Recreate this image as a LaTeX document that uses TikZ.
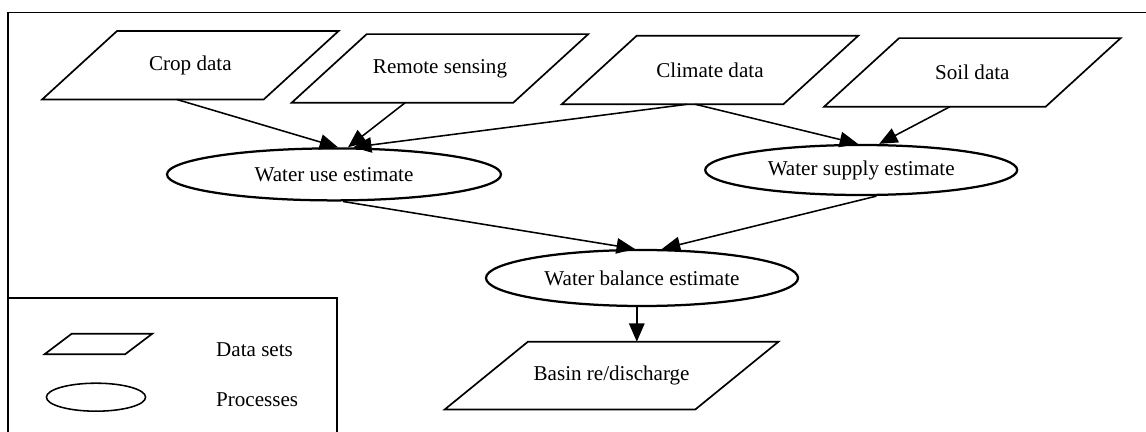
\documentclass[tikz,border=0pt]{standalone}
\usepackage{fontspec}
\setmainfont{Liberation Serif}
\usetikzlibrary{shapes.geometric,arrows.meta}

\tikzset{
  dataset/.style={inner sep=0pt, minimum width=7.4cm, minimum height=1.7cm},
  process/.style={ellipse, draw, line width=1.6pt, inner sep=0pt},
  flow/.style={-{Triangle[length=13pt,width=11pt]}, line width=1.1pt}
}
% slanted outline round a dataset node: #1 node, #2 slant
\newcommand{\slantbox}[2]{%
  \draw[line width=1.2pt] ([xshift=#2]#1.north west) -- (#1.north east)
      -- ([xshift=-#2]#1.south east) -- (#1.south west) -- cycle;}

\begin{document}
\begin{tikzpicture}[font=\fontsize{15}{18}\selectfont]
                \useasboundingbox (0,0) rectangle (28.65,-10.8);
                \draw[line width=1.1pt] (28.65,-0.31) -- (0.2,-0.31) -- (0.2,-10.8);
                \draw[line width=1.1pt] (0.2,-7.45) -- (8.43,-7.45) -- (8.43,-10.8);

                \node[dataset] (crop) at (4.76,-1.63) {Crop data};
                \slantbox{crop}{1.875cm}
                \node[dataset] (remote) at (11.0,-1.71) {Remote sensing};
                \slantbox{remote}{1.875cm}
                \node[dataset] (climate) at (17.75,-1.75) {Climate data};
                \slantbox{climate}{1.875cm}
                \node[dataset] (soil) at (24.31,-1.81) {Soil data};
                \slantbox{soil}{1.875cm}

                \node[process, minimum width=8.35cm, minimum height=1.3cm] (use)
                    at (8.35,-4.36) {Water use estimate};
                \node[process, minimum width=7.8cm, minimum height=1.25cm] (supply)
                    at (21.53,-4.25) {Water supply estimate};
                \node[process, minimum width=7.8cm, minimum height=1.4cm] (balance)
                    at (16.05,-6.95) {Water balance estimate};
                \node[dataset, minimum width=8.33cm, minimum height=1.68cm] (basin)
                    at (15.29,-9.39) {Basin re/discharge};
                \slantbox{basin}{2.08cm}

                \draw[flow] ([xshift=-0.34cm]crop.south) -- ([xshift=0.1cm]use.north);
                \draw[flow] ([xshift=-0.87cm]remote.south) -- ([xshift=0.35cm]use.north);
                \draw[flow] ([xshift=-0.57cm]climate.south) -- ([xshift=0.48cm]use.north);
                \draw[flow] ([xshift=-0.37cm]climate.south) -- ([xshift=-0.08cm]supply.north);
                \draw[flow] ([xshift=-0.56cm]soil.south) -- ([xshift=0.45cm]supply.north);
                \draw[flow] ([xshift=0.23cm]use.south) -- ([xshift=-0.18cm]balance.north);
                \draw[flow] ([xshift=0.38cm]supply.south) -- ([xshift=0.5cm]balance.north);
                \draw[flow] ([xshift=-0.13cm]balance.south)
                    -- ([xshift=-0.13cm]balance.south |- basin.north);

                % legend
                \node[dataset, minimum width=2.68cm, minimum height=0.5cm] (legdata)
                    at (2.46,-8.6) {};
                \slantbox{legdata}{0.68cm}
                \node[process, line width=1.1pt, minimum width=2.48cm, minimum height=0.7cm]
                    (legproc) at (2.4,-9.93) {};
                \node[anchor=west] (legdatatext) at (5.28,-8.75) {Data sets};
                \node[anchor=west] (legproctext) at (5.28,-10.0) {Processes};
            \end{tikzpicture}
\end{document}
